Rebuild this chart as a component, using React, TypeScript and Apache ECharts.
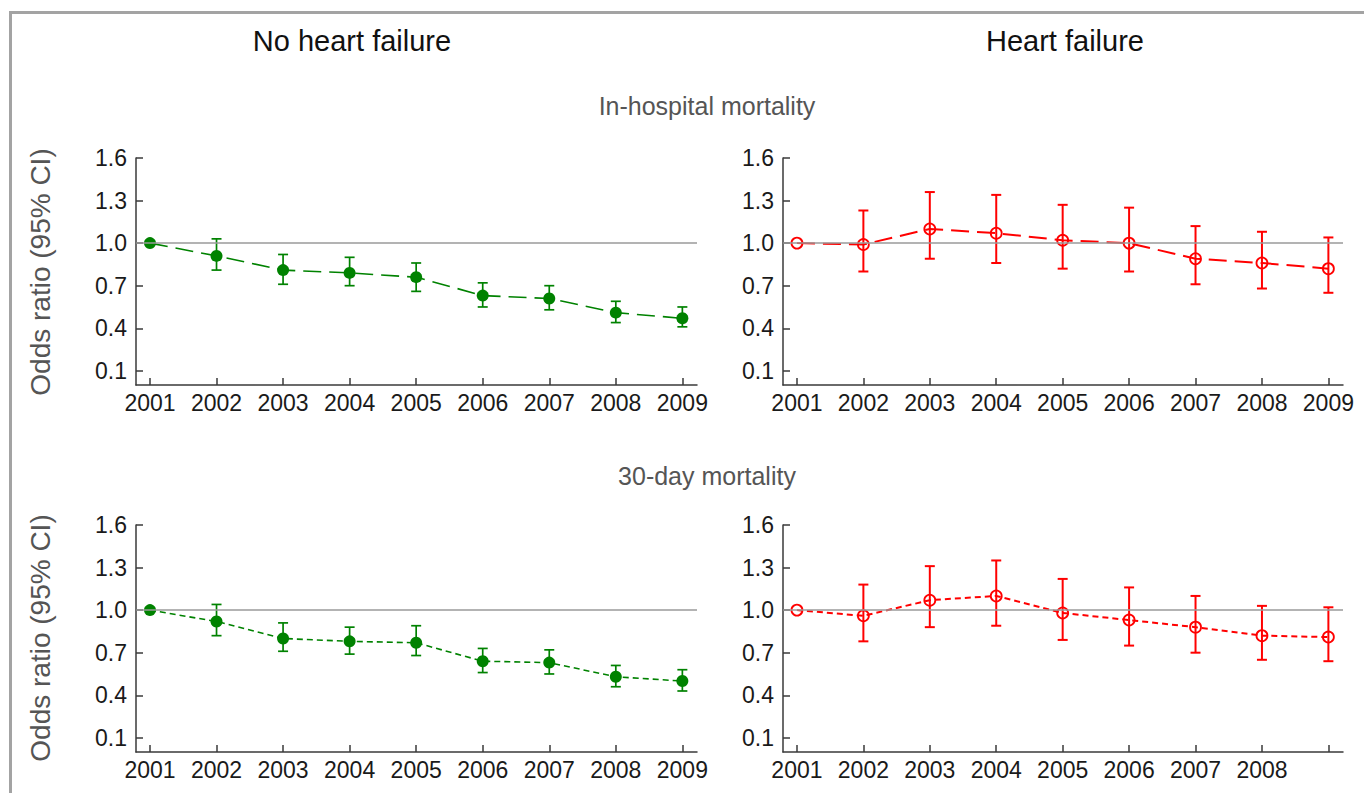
import React, { useEffect, useRef } from "react";
import * as echarts from "echarts";

// ---------- data ----------
const YEARS = [2001, 2002, 2003, 2004, 2005, 2006, 2007, 2008, 2009];
const X_LABELS_FULL = [2001, 2002, 2003, 2004, 2005, 2006, 2007, 2008, 2009];
const X_LABELS_SHORT = [2001, 2002, 2003, 2004, 2005, 2006, 2007, 2008];
const Y_TICKS = [0.1, 0.4, 0.7, 1.0, 1.3, 1.6];
const REF_OR = 1.0;

const COL_TITLES = ["No heart failure", "Heart failure"];
const ROW_TITLES = ["In-hospital mortality", "30-day mortality"];
const Y_NAME = "Odds ratio (95% CI)";

// No heart failure, in-hospital mortality
const NOHF_INHOSP_OR = [1.0, 0.91, 0.81, 0.79, 0.76, 0.63, 0.61, 0.51, 0.47];
const NOHF_INHOSP_LO = [null, 0.81, 0.71, 0.70, 0.66, 0.55, 0.53, 0.44, 0.41];
const NOHF_INHOSP_HI = [null, 1.03, 0.92, 0.90, 0.86, 0.72, 0.70, 0.59, 0.55];

// Heart failure, in-hospital mortality
const HF_INHOSP_OR = [1.0, 0.99, 1.10, 1.07, 1.02, 1.00, 0.89, 0.86, 0.82];
const HF_INHOSP_LO = [null, 0.80, 0.89, 0.86, 0.82, 0.80, 0.71, 0.68, 0.65];
const HF_INHOSP_HI = [null, 1.23, 1.36, 1.34, 1.27, 1.25, 1.12, 1.08, 1.04];

// No heart failure, 30-day mortality
const NOHF_30D_OR = [1.0, 0.92, 0.80, 0.78, 0.77, 0.64, 0.63, 0.53, 0.50];
const NOHF_30D_LO = [null, 0.82, 0.71, 0.69, 0.68, 0.56, 0.55, 0.46, 0.43];
const NOHF_30D_HI = [null, 1.04, 0.91, 0.88, 0.89, 0.73, 0.72, 0.61, 0.58];

// Heart failure, 30-day mortality
const HF_30D_OR = [1.0, 0.96, 1.07, 1.10, 0.98, 0.93, 0.88, 0.82, 0.81];
const HF_30D_LO = [null, 0.78, 0.88, 0.89, 0.79, 0.75, 0.70, 0.65, 0.64];
const HF_30D_HI = [null, 1.18, 1.31, 1.35, 1.22, 1.16, 1.10, 1.03, 1.02];

// ---------- styling ----------
const FONT = '"Liberation Sans", Arial, Helvetica, sans-serif';
const GREEN = "#008200";
const RED = "#ff0000";
const AXIS_COL = "#3a3a3a";
const X_MIN = 2000.79;
const X_MAX = 2009.22;

type Panel = {
  left: number;
  top: number;
  width: number;
  height: number;
  or: number[];
  lo: (number | null)[];
  hi: (number | null)[];
  color: string;
  filled: boolean;
  dash: number[];
  xLabels: number[];
};

const PANELS: Panel[] = [
  { left: 136, top: 158, width: 561, height: 227, or: NOHF_INHOSP_OR, lo: NOHF_INHOSP_LO, hi: NOHF_INHOSP_HI, color: GREEN, filled: true, dash: [18, 8], xLabels: X_LABELS_FULL },
  { left: 783, top: 158, width: 560, height: 227, or: HF_INHOSP_OR, lo: HF_INHOSP_LO, hi: HF_INHOSP_HI, color: RED, filled: false, dash: [18, 8], xLabels: X_LABELS_FULL },
  { left: 136, top: 525, width: 561, height: 227, or: NOHF_30D_OR, lo: NOHF_30D_LO, hi: NOHF_30D_HI, color: GREEN, filled: true, dash: [6, 4], xLabels: X_LABELS_FULL },
  { left: 783, top: 525, width: 560, height: 227, or: HF_30D_OR, lo: HF_30D_LO, hi: HF_30D_HI, color: RED, filled: false, dash: [6, 4], xLabels: X_LABELS_SHORT },
];

function buildOption() {
  const grid: any[] = [];
  const xAxis: any[] = [];
  const yAxis: any[] = [];
  const series: any[] = [];

  PANELS.forEach((p, i) => {
    grid.push({ left: p.left, top: p.top, width: p.width, height: p.height, containLabel: false });
    xAxis.push({
      type: "value",
      gridIndex: i,
      min: X_MIN,
      max: X_MAX,
      axisLine: { show: true, lineStyle: { color: AXIS_COL, width: 1.5 } },
      axisTick: { show: true, inside: true, length: 7, customValues: YEARS, lineStyle: { color: AXIS_COL, width: 1.5 } },
      axisLabel: {
        show: true,
        customValues: p.xLabels,
        formatter: (v: number) => String(Math.round(v)),
        margin: 6,
        fontSize: 23,
        fontFamily: FONT,
        color: "#1a1a1a",
      },
      splitLine: { show: false },
    });
    yAxis.push({
      type: "value",
      gridIndex: i,
      min: 0,
      max: 1.6,
      axisLine: { show: true, lineStyle: { color: AXIS_COL, width: 1.5 } },
      axisTick: { show: true, inside: true, length: 7, customValues: Y_TICKS, lineStyle: { color: AXIS_COL, width: 1.5 } },
      axisLabel: {
        show: true,
        customValues: Y_TICKS,
        formatter: (v: number) => v.toFixed(1),
        margin: 9,
        fontSize: 23,
        fontFamily: FONT,
        color: "#1a1a1a",
      },
      splitLine: { show: false },
    });

    // reference line at OR = 1
    series.push({
      type: "line",
      xAxisIndex: i,
      yAxisIndex: i,
      data: [],
      z: 1,
      silent: true,
      markLine: {
        silent: true,
        symbol: ["none", "none"],
        label: { show: false },
        lineStyle: { color: "#9a9a9a", width: 1.5, type: "solid" },
        data: [{ yAxis: REF_OR }],
      },
    });

    // error bars
    const ciData = YEARS.map((y, k) => [y, p.lo[k], p.hi[k]]).filter((d) => d[1] != null && d[2] != null);
    const col = p.color;
    const lw = p.filled ? 1.7 : 2;
    series.push({
      type: "custom",
      xAxisIndex: i,
      yAxisIndex: i,
      z: 2,
      silent: true,
      encode: { x: 0, y: [1, 2] },
      data: ciData,
      renderItem: (params: any, api: any) => {
        const x = api.value(0);
        const pLo = api.coord([x, api.value(1)]);
        const pHi = api.coord([x, api.value(2)]);
        const cap = 5;
        const style = { stroke: col, lineWidth: lw, fill: "none" };
        return {
          type: "group",
          children: [
            { type: "line", shape: { x1: pLo[0], y1: pLo[1], x2: pHi[0], y2: pHi[1] }, style },
            { type: "line", shape: { x1: pLo[0] - cap, y1: pLo[1], x2: pLo[0] + cap, y2: pLo[1] }, style },
            { type: "line", shape: { x1: pHi[0] - cap, y1: pHi[1], x2: pHi[0] + cap, y2: pHi[1] }, style },
          ],
        };
      },
    });

    // point estimates
    series.push({
      type: "line",
      xAxisIndex: i,
      yAxisIndex: i,
      z: 3,
      data: YEARS.map((y, k) => [y, p.or[k]]),
      symbol: "circle",
      symbolSize: p.filled ? 12 : 11,
      showSymbol: true,
      lineStyle: { color: col, width: p.filled ? 1.6 : 2, type: p.dash },
      itemStyle: p.filled
        ? { color: col, borderColor: col, borderWidth: 0 }
        : { color: "rgba(255,255,255,0)", borderColor: col, borderWidth: 1.8 },
      emphasis: { disabled: true },
    });
  });

  const graphic: any[] = [
    {
      type: "rect",
      shape: { x: 10.5, y: 12.5, width: 1500, height: 1000 },
      style: { fill: "none", stroke: "#a3a3a3", lineWidth: 3 },
      silent: true,
    },
    { type: "text", x: 352, y: 41, style: { text: COL_TITLES[0], textAlign: "center", textVerticalAlign: "middle", fontSize: 29, fontFamily: FONT, fill: "#111" } },
    { type: "text", x: 1065, y: 41, style: { text: COL_TITLES[1], textAlign: "center", textVerticalAlign: "middle", fontSize: 29, fontFamily: FONT, fill: "#111" } },
    { type: "text", x: 707, y: 106, style: { text: ROW_TITLES[0], textAlign: "center", textVerticalAlign: "middle", fontSize: 25, fontFamily: FONT, fill: "#555" } },
    { type: "text", x: 707, y: 476, style: { text: ROW_TITLES[1], textAlign: "center", textVerticalAlign: "middle", fontSize: 25, fontFamily: FONT, fill: "#555" } },
    { type: "text", x: 40, y: 272, rotation: Math.PI / 2, style: { text: Y_NAME, textAlign: "center", textVerticalAlign: "middle", fontSize: 28, fontFamily: FONT, fill: "#555" } },
    { type: "text", x: 40, y: 638, rotation: Math.PI / 2, style: { text: Y_NAME, textAlign: "center", textVerticalAlign: "middle", fontSize: 28, fontFamily: FONT, fill: "#555" } },
  ];

  return {
    animation: false,
    backgroundColor: "#ffffff",
    grid,
    xAxis,
    yAxis,
    series,
    graphic,
  };
}

export default function App() {
  const ref = useRef<HTMLDivElement>(null);
  useEffect(() => {
    if (!ref.current) return;
    const chart = echarts.init(ref.current, undefined, { renderer: "svg" });
    chart.setOption(buildOption() as any);
    return () => chart.dispose();
  }, []);
  return (
    <div
      ref={ref}
      style={{ position: "absolute", left: 0, top: 0, width: 1364, height: 793, background: "#fff" }}
    />
  );
}
